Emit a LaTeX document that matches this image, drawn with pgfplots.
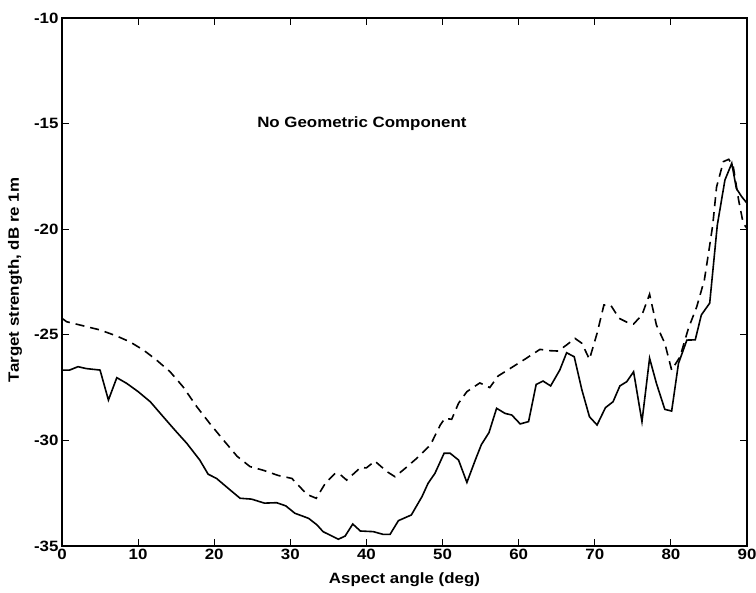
\documentclass[border=0pt]{standalone}
\usepackage{pgfplots}
\pgfplotsset{compat=1.18}
\usepackage{fontspec}
\setmainfont{Liberation Sans}[FakeStretch=1.13]
\begin{document}
\begin{tikzpicture}
\begin{axis}[
  scale only axis,
  width=685bp, height=528bp,
  xmin=0, xmax=90, ymin=-35, ymax=-10,
  xtick={0,10,...,90},
  ytick={-35,-30,-25,-20,-15,-10},
  yticklabels={-35,-30,-25,-20,-15,-10},
  tick align=inside,
  major tick length=7bp,
  axis line style={line width=1.3bp},
  every tick/.style={black, line width=1bp},
  tick label style={font=\bfseries\fontsize{15}{17}\selectfont},
  /pgf/number format/assume math mode=true,
  xlabel={Aspect angle (deg)},
  ylabel={Target strength, dB re 1m},
  every axis x label/.style={at={(axis description cs:0.5,-0.0644)}, anchor=center, font=\bfseries\fontsize{15}{17}\selectfont},
  every axis y label/.style={at={(axis description cs:-0.0686,0.504)}, rotate=90, anchor=center, font=\bfseries\fontsize{15}{17}\selectfont},
  clip=true,
]
\addplot[black, line width=1.6bp] coordinates {
(0,-26.67) (1,-26.67) (2.1,-26.51) (3.2,-26.6) (5.0,-26.67) (6.1,-28.09) (7.2,-27.03)
(8.5,-27.3) (10.0,-27.69) (11.6,-28.17) (13.3,-28.88) (14.8,-29.5) (16.4,-30.14)
(18.1,-30.93) (19.2,-31.6) (20.3,-31.8) (22.1,-32.35) (23.4,-32.74) (24.9,-32.78)
(26.6,-32.97) (28.2,-32.95) (29.4,-33.1) (30.6,-33.45) (32.4,-33.69) (33.5,-34.0)
(34.3,-34.32) (36.3,-34.68) (37.2,-34.53) (38.2,-33.96) (39.2,-34.29) (40.9,-34.32)
(42.2,-34.45) (43.1,-34.45) (44.2,-33.8) (45.9,-33.53) (47.3,-32.66) (48.1,-32.03)
(49.0,-31.56) (50.2,-30.61) (51.0,-30.61) (52.1,-30.93) (53.2,-31.99) (54.3,-30.93)
(55.1,-30.2) (56.1,-29.63) (57.1,-28.48) (58.2,-28.72) (59.1,-28.8) (60.2,-29.22)
(61.3,-29.11) (62.3,-27.35) (63.2,-27.19) (64.2,-27.42) (65.4,-26.67) (66.3,-25.85)
(67.3,-26.04) (68.3,-27.6) (69.3,-28.88) (70.3,-29.27) (71.4,-28.45) (72.4,-28.17)
(73.3,-27.42) (74.2,-27.22) (75.1,-26.75) (76.2,-29.11) (77.2,-26.11) (78.1,-27.3)
(79.2,-28.53) (80.1,-28.61) (81.0,-26.35) (82.1,-25.25) (83.2,-25.24) (84.0,-24.06)
(85.1,-23.5) (86.1,-19.8) (87.1,-17.67) (88.0,-16.88) (88.6,-18.07) (89.3,-18.46)
(90,-18.77)
};
\addplot[black, line width=1.6bp, dash pattern=on 9bp off 6bp] coordinates {
(0,-24.22) (0.6,-24.38) (2.4,-24.54) (5.0,-24.77) (7.2,-25.06) (8.9,-25.33)
(10.7,-25.72) (12.4,-26.19) (14.2,-26.75) (15.9,-27.46) (17.7,-28.4) (19.4,-29.19)
(21.2,-29.98) (23.0,-30.75) (24.7,-31.24) (26.5,-31.42) (28.4,-31.66) (30.2,-31.8)
(31.3,-32.22) (32.2,-32.56) (33.4,-32.74) (34.6,-32.03) (35.9,-31.56) (36.5,-31.6)
(37.4,-31.88) (39.2,-31.29) (40.0,-31.3) (41.1,-30.98) (42.7,-31.48) (43.75,-31.72)
(45.1,-31.32) (46.6,-30.85) (48.4,-30.22) (49.7,-29.27) (50.3,-28.96) (51.2,-29.0)
(52.1,-28.24) (53.2,-27.69) (54.9,-27.28) (56.2,-27.5) (57.3,-26.95) (58.9,-26.59)
(60.8,-26.16) (62.8,-25.69) (64.0,-25.75) (65.2,-25.77) (66.3,-25.48) (67.4,-25.17)
(68.3,-25.4) (69.3,-26.16) (70.3,-24.93) (71.2,-23.59) (72.1,-23.6) (73.2,-24.22)
(74.2,-24.4) (75.1,-24.49) (76.2,-24.06) (77.2,-23.08) (78.1,-24.54) (79.2,-25.4)
(80.1,-26.67) (81.2,-26.04) (82.3,-24.7) (83.4,-23.67) (84.4,-22.4) (85.0,-21.0)
(85.5,-19.8) (86.0,-18.0) (86.9,-16.8) (87.6,-16.69) (88.2,-17.04) (88.9,-18.62)
(89.5,-19.72) (90,-19.96)
};
\node[font=\bfseries\fontsize{15}{17}\selectfont, anchor=center] at (axis cs:39.4,-15.02) {No Geometric Component};
\end{axis}
\pgfresetboundingbox
\path[use as bounding box] ([xshift=-62bp,yshift=-47bp]current axis.south west) rectangle ([xshift=9bp,yshift=18bp]current axis.north east);
\end{tikzpicture}
\end{document}
